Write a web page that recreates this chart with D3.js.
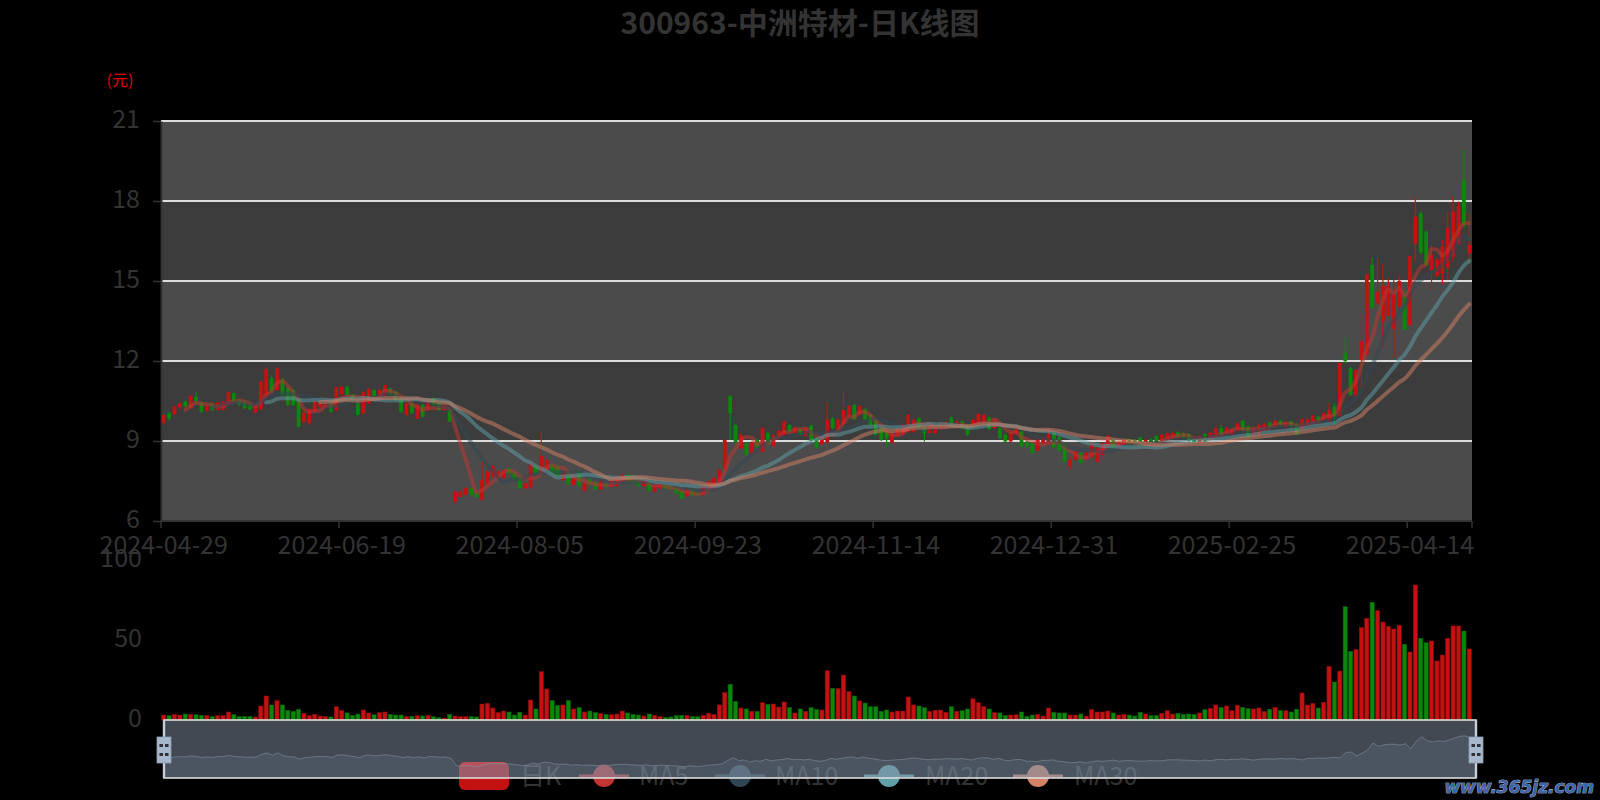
<!DOCTYPE html>
<html><head><meta charset="utf-8">
<script src="https://cdn.jsdelivr.net/npm/d3@7/dist/d3.min.js"></script>
<style>html,body{margin:0;padding:0;background:#000;}svg{display:block;}</style>
</head><body>
<svg id="chart" width="1600" height="800"></svg>
<script>
// ---------------- DATA ----------------
const dates = [
"2024-04-29","2024-04-30",
"2024-05-06","2024-05-07","2024-05-08","2024-05-09","2024-05-10","2024-05-13","2024-05-14","2024-05-15","2024-05-16","2024-05-17","2024-05-20","2024-05-21","2024-05-22","2024-05-23","2024-05-24","2024-05-27","2024-05-28","2024-05-29","2024-05-30","2024-05-31",
"2024-06-03","2024-06-04","2024-06-05","2024-06-06","2024-06-07","2024-06-11","2024-06-12","2024-06-13","2024-06-14","2024-06-17","2024-06-18","2024-06-19","2024-06-20","2024-06-21","2024-06-24","2024-06-25","2024-06-26","2024-06-27","2024-06-28",
"2024-07-01","2024-07-02","2024-07-03","2024-07-04","2024-07-05","2024-07-08","2024-07-09","2024-07-10","2024-07-11","2024-07-12","2024-07-15","2024-07-16","2024-07-17","2024-07-18","2024-07-19","2024-07-22","2024-07-23","2024-07-24","2024-07-25","2024-07-26","2024-07-29","2024-07-30","2024-07-31",
"2024-08-01","2024-08-02","2024-08-05","2024-08-06","2024-08-07","2024-08-08","2024-08-09","2024-08-12","2024-08-13","2024-08-14","2024-08-15","2024-08-16","2024-08-19","2024-08-20","2024-08-21","2024-08-22","2024-08-23","2024-08-26","2024-08-27","2024-08-28","2024-08-29","2024-08-30",
"2024-09-02","2024-09-03","2024-09-04","2024-09-05","2024-09-06","2024-09-09","2024-09-10","2024-09-11","2024-09-12","2024-09-13","2024-09-18","2024-09-19","2024-09-20","2024-09-23","2024-09-24","2024-09-25","2024-09-26","2024-09-27","2024-09-30",
"2024-10-08","2024-10-09","2024-10-10","2024-10-11","2024-10-14","2024-10-15","2024-10-16","2024-10-17","2024-10-18","2024-10-21","2024-10-22","2024-10-23","2024-10-24","2024-10-25","2024-10-28","2024-10-29","2024-10-30","2024-10-31",
"2024-11-01","2024-11-04","2024-11-05","2024-11-06","2024-11-07","2024-11-08","2024-11-11","2024-11-12","2024-11-13","2024-11-14","2024-11-15","2024-11-18","2024-11-19","2024-11-20","2024-11-21","2024-11-22","2024-11-25","2024-11-26","2024-11-27","2024-11-28","2024-11-29",
"2024-12-02","2024-12-03","2024-12-04","2024-12-05","2024-12-06","2024-12-09","2024-12-10","2024-12-11","2024-12-12","2024-12-13","2024-12-16","2024-12-17","2024-12-18","2024-12-19","2024-12-20","2024-12-23","2024-12-24","2024-12-25","2024-12-26","2024-12-27","2024-12-30","2024-12-31",
"2025-01-02","2025-01-03","2025-01-06","2025-01-07","2025-01-08","2025-01-09","2025-01-10","2025-01-13","2025-01-14","2025-01-15","2025-01-16","2025-01-17","2025-01-20","2025-01-21","2025-01-22","2025-01-23","2025-01-24","2025-01-27",
"2025-02-05","2025-02-06","2025-02-07","2025-02-10","2025-02-11","2025-02-12","2025-02-13","2025-02-14","2025-02-17","2025-02-18","2025-02-19","2025-02-20","2025-02-21","2025-02-24","2025-02-25","2025-02-26","2025-02-27","2025-02-28",
"2025-03-03","2025-03-04","2025-03-05","2025-03-06","2025-03-07","2025-03-10","2025-03-11","2025-03-12","2025-03-13","2025-03-14","2025-03-17","2025-03-18","2025-03-19","2025-03-20","2025-03-21","2025-03-24","2025-03-25","2025-03-26","2025-03-27","2025-03-28","2025-03-31",
"2025-04-01","2025-04-02","2025-04-03","2025-04-07","2025-04-08","2025-04-09","2025-04-10","2025-04-11","2025-04-14","2025-04-15","2025-04-16","2025-04-17","2025-04-18","2025-04-21","2025-04-22","2025-04-23","2025-04-24","2025-04-25","2025-04-28","2025-04-29"
];

const opens = [
9.69,10.04,10.01,10.26,10.48,10.23,10.66,10.44,10.14,10.39,10.16,10.18,10.39,10.79,10.54,10.48,10.41,10.06,10.19,10.64,
11.35,10.91,11.31,10.98,10.91,10.56,9.73,9.66,10.1,10.29,10.29,10.41,10.16,10.76,11.04,10.73,10.41,10.04,10.41,10.91,
10.69,10.73,10.98,10.85,10.66,9.98,10.41,9.85,10.35,10.16,10.6,10.41,10.16,10.19,6.73,6.91,6.98,7.23,7.06,6.8,
7.35,7.66,7.64,7.6,7.98,7.81,7.66,7.23,7.26,8.04,7.85,7.91,8.1,8.06,7.54,7.81,7.35,7.85,7.14,7.56,
7.44,7.19,7.41,7.29,7.31,7.48,7.73,7.6,7.48,7.31,7.48,7.1,7.23,7.38,7.33,7.29,7.1,6.94,7.16,7.06,
6.98,7.23,7.29,7.48,7.91,10.69,9.6,8.73,8.91,8.54,9.04,8.6,9.29,8.81,9.14,9.23,9.6,9.31,9.44,9.19,
9.58,9.1,8.88,8.95,9.85,9.44,9.64,9.94,10.35,10.01,10.19,9.98,9.79,9.48,9.35,8.94,9.19,9.26,9.35,9.35,
9.85,9.5,9.31,9.29,9.48,9.56,9.88,9.54,9.73,9.6,9.6,9.64,9.7,9.88,9.48,9.48,9.23,8.98,9.26,9.35,
8.98,8.91,8.64,8.91,8.91,9.31,9.14,8.91,8.06,8.29,8.54,8.31,8.41,8.23,8.48,8.81,9.04,8.81,8.85,9.06,
9.04,9.13,8.85,9.06,9.19,9.01,9.06,9.14,9.33,9.29,9.26,9.06,8.91,9.26,9.1,9.14,9.48,9.29,9.23,9.44,
9.76,9.54,9.19,9.23,9.44,9.69,9.56,9.75,9.51,9.73,9.63,9.44,9.6,9.73,9.91,9.79,9.79,10.29,9.94,12.3,
11.73,10.7,12.04,12.23,15.6,14.16,13.5,13.7,13.2,14.04,14.04,13.35,16.4,17.54,16.85,15.4,15.2,15.3,15.5,15.9,
16.4,18.8,16.04
];
const closes = [
9.97,9.85,10.29,10.41,10.3,10.69,10.5,10.1,10.31,10.16,10.44,10.48,10.83,10.48,10.35,10.23,10.19,10.31,11.23,11.69,
10.89,11.73,10.73,10.35,10.35,9.54,10.06,10.19,10.48,10.44,10.44,10.1,11.01,11.04,10.73,10.51,9.98,10.83,10.94,10.66,
10.91,11.1,10.73,10.54,10.1,10.41,10.04,10.35,9.91,10.48,10.35,10.16,10.35,9.73,7.1,7.1,7.23,6.98,6.89,7.54,
7.85,8.06,7.85,7.91,7.79,7.56,7.23,7.41,8.14,7.79,8.44,8.29,7.79,7.69,7.79,7.39,7.6,7.31,7.41,7.39,
7.19,7.51,7.29,7.54,7.6,7.73,7.51,7.44,7.31,7.51,7.14,7.29,7.41,7.23,7.2,7.04,6.85,7.19,6.98,6.98,
7.29,7.48,7.6,7.91,9.04,10.04,8.95,9.23,8.48,8.94,8.76,9.48,8.91,9.23,9.38,9.73,9.35,9.5,9.26,9.48,
9.01,8.76,9.06,9.8,9.48,9.81,10.16,10.31,9.81,10.31,9.81,9.6,9.23,9.04,9.1,9.26,9.44,9.6,9.98,9.79,
9.48,9.3,9.56,9.48,9.66,9.69,9.54,9.73,9.48,9.23,9.79,10.01,9.98,9.44,9.81,9.1,8.98,9.35,9.44,8.79,
8.79,8.56,9.06,9.1,9.23,8.76,8.64,8.23,8.29,8.6,8.19,8.56,8.91,8.73,8.91,9.19,8.76,8.94,9.04,8.89,
8.81,8.81,9.04,8.91,8.94,9.23,9.29,9.31,9.16,9.14,9.01,8.94,9.19,8.98,9.31,9.48,9.26,9.48,9.44,9.66,
9.41,9.16,9.48,9.6,9.64,9.56,9.76,9.6,9.69,9.54,9.26,9.81,9.81,9.94,9.79,10.04,10.16,9.94,11.93,12.0,
10.73,11.66,12.73,15.26,14.0,14.6,14.8,14.8,14.5,15.0,13.17,15.94,17.4,16.07,15.6,16.0,15.8,16.3,17.0,17.6,
17.8,17.1,16.35
];
const highs = [
10.0,10.1,10.33,10.45,10.52,10.72,10.83,10.5,10.35,10.42,10.47,10.5,10.86,10.82,10.58,10.5,10.44,10.34,11.26,11.76,
11.45,11.76,11.36,11.02,10.95,10.6,10.1,10.22,10.5,10.47,10.48,10.44,11.03,11.07,11.07,10.76,10.44,10.86,10.98,10.94,
10.95,11.12,11.0,10.88,10.7,10.44,10.44,10.38,10.38,10.5,10.63,10.44,10.38,10.22,7.14,7.14,7.27,7.27,7.1,8.23,
7.9,8.1,7.9,7.95,8.02,7.85,7.7,7.45,8.17,8.08,9.35,8.33,8.14,8.1,7.83,7.85,7.64,7.88,7.45,7.6,
7.48,7.55,7.45,7.58,7.64,7.77,7.77,7.64,7.52,7.55,7.52,7.33,7.45,7.42,7.36,7.33,7.14,7.23,7.2,7.1,
7.33,7.52,7.64,7.98,9.06,10.72,9.65,9.3,8.95,8.98,9.08,9.52,9.33,9.27,9.42,9.77,9.64,9.54,9.48,9.52,
9.62,9.14,9.1,10.48,9.9,9.85,10.85,10.35,10.4,10.35,10.23,10.02,9.82,9.52,9.38,9.3,9.48,9.64,10.02,9.83,
9.9,9.54,9.6,9.52,9.7,9.73,9.92,9.77,9.77,9.64,9.83,10.05,10.02,9.92,9.85,9.52,9.27,9.39,9.48,9.39,
9.02,8.95,9.1,9.14,9.48,9.35,9.18,8.95,8.41,8.64,8.58,8.6,8.95,8.77,8.95,9.23,9.08,8.98,9.08,9.1,
9.08,9.16,9.08,9.1,9.22,9.27,9.33,9.35,9.37,9.33,9.3,9.1,9.23,9.3,9.35,9.52,9.6,9.52,9.48,9.7,
9.8,9.58,9.52,9.64,9.68,9.73,9.8,9.79,9.73,9.77,9.67,9.85,9.85,9.98,9.95,10.08,10.44,10.41,11.93,12.91,
11.8,11.7,13.73,15.28,15.9,15.89,15.66,15.1,15.04,15.23,14.6,15.96,18.19,17.6,16.9,16.35,15.85,16.54,17.6,18.19,
17.98,19.9,17.54
];
const lows = [
9.62,9.76,9.98,10.2,10.25,10.2,10.4,10.05,10.1,10.12,10.13,10.15,10.36,10.45,10.3,10.2,10.15,10.0,10.15,10.6,
10.85,10.88,10.7,10.3,10.3,9.5,9.68,9.62,10.06,10.25,10.26,10.06,10.12,10.72,10.7,10.48,9.95,10.0,10.38,10.62,
10.66,10.7,10.7,10.5,10.06,9.95,10.0,9.82,9.88,10.13,10.32,10.13,10.13,9.7,6.66,6.88,6.95,6.95,6.86,6.76,
7.3,7.62,7.6,7.56,7.75,7.52,7.2,7.2,7.22,7.76,7.8,7.87,7.76,7.65,7.5,7.35,7.32,7.28,7.1,7.35,
7.15,7.16,7.26,7.26,7.28,7.45,7.48,7.4,7.28,7.28,7.1,7.06,7.2,7.2,7.16,7.0,6.82,6.9,6.94,6.94,
6.95,7.2,7.26,7.45,7.88,9.04,8.85,8.7,8.45,8.5,8.72,8.56,8.88,8.78,9.1,9.2,9.32,9.28,9.22,9.16,
8.98,8.72,8.85,8.9,9.44,9.4,9.6,9.9,9.78,9.98,9.78,9.56,9.2,9.0,8.8,8.9,9.16,9.22,9.32,9.32,
9.44,8.98,9.28,9.26,9.45,9.53,9.5,9.5,9.44,9.2,9.56,9.6,9.66,9.4,9.45,9.06,8.94,8.94,9.22,8.75,
8.75,8.52,8.6,8.88,8.88,8.72,8.6,8.2,7.91,8.26,8.16,8.28,8.38,8.2,8.45,8.78,8.72,8.78,8.82,8.86,
8.78,8.78,8.82,8.88,8.9,8.98,9.03,9.1,9.13,9.1,8.98,8.9,8.88,8.94,9.06,9.1,9.22,9.26,9.2,9.4,
9.38,9.12,9.16,9.2,9.4,9.52,9.52,9.56,9.48,9.5,9.22,9.4,9.56,9.7,9.75,9.76,9.69,9.6,9.9,11.9,
10.7,10.66,10.92,12.2,13.98,14.1,12.48,13.66,12.1,14.0,13.16,13.3,15.73,16.0,15.55,14.66,15.15,14.85,15.04,15.73,
16.35,17.0,15.66
];
const volumes = [
3.1,2.7,3.5,3.1,3.75,3.5,3.3,2.9,2.7,2.1,2.7,2.7,5.0,3.3,2.1,2.3,2.3,1.9,8.75,15,
9.4,12.1,9.4,6.0,5.4,6.7,4.2,2.7,3.5,2.5,2.1,1.9,8.3,6.0,4.4,2.9,3.75,6.25,4.4,3.3,
4.6,5.0,3.5,3.1,3.1,2.3,2.3,2.7,2.5,2.9,2.1,1.5,1.25,3.5,2.5,2.1,2.1,2.1,1.9,10,
10.4,7.5,4.6,5.6,5.0,3.1,4.8,3.1,12.5,6.9,30.2,19.4,12.1,9.2,9.4,12.1,6.9,7.7,5.0,5.6,
4.6,4.0,3.5,3.3,3.75,5.6,4.4,3.5,3.1,2.5,3.75,2.9,2.3,1.7,1.9,2.7,2.9,2.7,2.3,2.1,
2.9,4.2,3.5,9.4,17.1,22.3,11.5,7.5,6.9,5.4,5.4,10.8,9.8,10,8.1,11.25,7.9,4.4,6.9,5.4,
7.7,6.7,6.25,30.8,19.8,19.6,28.1,17.7,15,11.9,10.6,8.3,8.3,5.4,6.25,5.0,5.6,5.6,14.4,9.4,
8.75,7.7,5.4,6.0,6.25,4.8,8.3,5.4,5.8,6.9,13.3,10.8,8.3,6.9,4.6,4.4,2.9,3.1,3.3,5.0,
2.3,3.1,3.5,2.5,7.5,4.8,4.4,4.4,3.1,3.1,3.75,2.5,6.5,5.0,5.0,5.6,4.4,3.1,3.5,3.1,
2.5,4.8,3.75,2.7,2.9,4.2,5.8,3.75,4.2,3.5,3.75,3.5,4.4,6.5,7.3,9.4,7.7,8.75,5.8,9.2,
7.9,7.1,6.9,7.5,5.2,6.7,7.9,6.0,5.8,5.0,6.7,16.9,9.4,10.4,7.5,11,33.5,23.75,30.6,70.8,
42.9,44,57.7,63.5,73.5,68.3,61.25,58.5,56.9,59.2,47.3,42.5,84.4,51,48.3,49.4,36.9,40.6,51,58.75,
58.75,55.6,44.4
];

const priceTicks = [6, 9, 12, 15, 18, 21];
const volumeTicks = [0, 50, 100];
const maPeriods = [5, 10, 20, 30];
const legendNames = ["日K", "MA5", "MA10", "MA20", "MA30"];
const labelEvery = 33;
const titleText = "300963-中洲特材-日K线图";
const unitText = "(元)";

// ---------------- STYLE ----------------
const UP = "#c41212", DOWN = "#0b870b";
const MA_COLORS = ["#c23531", "#2f4554", "#61a0a8", "#d48265"];
const FONT = "'Noto Sans CJK SC','Noto Sans',sans-serif";

const svg = d3.select("#chart");
svg.append("rect").attr("width", 1600).attr("height", 800).attr("fill", "#000");

const L = 161, R = 1472, T = 121, B = 521;
const VT = 560, VB = 720;

const x = d3.scaleBand().domain(dates).range([L, R]).paddingInner(0).paddingOuter(0);
const bw = x.bandwidth();
const cx = i => x(dates[i]) + bw / 2;
const y = d3.scaleLinear().domain([6, 21]).range([B, T]);
const yv = d3.scaleLinear().domain([0, 100]).range([VB, VT]);

// title
svg.append("text").attr("x", 800).attr("y", 34).attr("text-anchor", "middle")
  .attr("font-family", FONT).attr("font-weight", "bold").attr("font-size", 30)
  .attr("fill", "#333").text(titleText);
svg.append("text").attr("x", 120).attr("y", 86).attr("text-anchor", "middle")
  .attr("font-family", FONT).attr("font-size", 16).attr("fill", "#e00000").text(unitText);

// split areas
const bands = d3.pairs(priceTicks);
svg.append("g").selectAll("rect").data(bands).join("rect")
  .attr("x", L).attr("width", R - L)
  .attr("y", d => y(d[1])).attr("height", d => y(d[0]) - y(d[1]))
  .attr("fill", (d, i) => i % 2 === 0 ? "#4b4b4b" : "#3c3c3c");

// grid lines
svg.append("g").selectAll("line").data(priceTicks.slice(1)).join("line")
  .attr("x1", L).attr("x2", R).attr("y1", d => y(d)).attr("y2", d => y(d))
  .attr("stroke", "#dcdcdc").attr("stroke-width", 2);

// y axis
const yAxis = svg.append("g").attr("transform", `translate(${L},0)`)
  .call(d3.axisLeft(y).tickValues(priceTicks).tickSizeInner(8).tickSizeOuter(0).tickPadding(13));
yAxis.select(".domain").attr("stroke", "#333").attr("stroke-width", 2);
yAxis.selectAll(".tick line").attr("stroke", "#333").attr("stroke-width", 1.5);
yAxis.selectAll(".tick text").attr("fill", "#333").attr("font-size", 25).attr("font-family", FONT).attr("dy", "0.26em");

// x axis
const labelDates = dates.filter((d, i) => i % labelEvery === 0);
const xAxisG = svg.append("g").attr("transform", `translate(0,${B})`);
xAxisG.append("line").attr("x1", L).attr("x2", R).attr("stroke", "#333").attr("stroke-width", 2);
xAxisG.selectAll("line.tk").data(labelDates.map(d => x(d)).concat([R])).join("line").attr("class", "tk")
  .attr("x1", d => d).attr("x2", d => d).attr("y1", 0).attr("y2", 7)
  .attr("stroke", "#333").attr("stroke-width", 1.5);
xAxisG.selectAll("text").data(labelDates).join("text")
  .attr("x", d => x(d) + bw / 2).attr("y", 33).attr("text-anchor", "middle")
  .attr("font-family", FONT).attr("font-size", 25).attr("fill", "#333").text(d => d);

// clip
svg.append("clipPath").attr("id", "plotclip").append("rect")
  .attr("x", L).attr("y", T - 2).attr("width", R - L).attr("height", B - T + 4);

const idx = d3.range(dates.length);
const isUp = i => closes[i] >= opens[i];

// candles
const cg = svg.append("g").attr("clip-path", "url(#plotclip)");
const candleW = 3.8;
cg.selectAll("line.wick").data(idx).join("line").attr("class", "wick")
  .attr("x1", i => cx(i)).attr("x2", i => cx(i))
  .attr("y1", i => y(highs[i])).attr("y2", i => y(lows[i]))
  .attr("stroke", i => isUp(i) ? UP : DOWN).attr("stroke-width", 1.2);
cg.selectAll("rect.body").data(idx).join("rect").attr("class", "body")
  .attr("x", i => cx(i) - candleW / 2).attr("width", candleW)
  .attr("y", i => y(Math.max(opens[i], closes[i])))
  .attr("height", i => Math.max(1, Math.abs(y(opens[i]) - y(closes[i]))))
  .attr("fill", i => isUp(i) ? UP : DOWN);

// moving averages (computed from the close values)
function movingAverage(n) {
  return idx.map(i => i < n - 1 ? null : d3.mean(closes.slice(i - n + 1, i + 1)));
}
const line = d3.line().defined(d => d.v !== null).x(d => cx(d.i)).y(d => y(d.v)).curve(d3.curveMonotoneX);
maPeriods.forEach((n, k) => {
  const ma = movingAverage(n).map((v, i) => ({ i, v }));
  cg.append("path").datum(ma).attr("d", line).attr("fill", "none")
    .attr("stroke", MA_COLORS[k]).attr("stroke-width", 4).attr("stroke-opacity", 0.5)
    .attr("stroke-linejoin", "round").attr("stroke-linecap", "round");
});

// volume
const vAxis = svg.append("g").attr("transform", `translate(${L},0)`)
  .call(d3.axisLeft(yv).tickValues(volumeTicks).tickSize(0).tickPadding(19));
vAxis.select(".domain").remove();
vAxis.selectAll(".tick text").attr("fill", "#333").attr("font-size", 25).attr("font-family", FONT).attr("dy", "0.24em");

const volW = 4.2;
svg.append("g").selectAll("rect").data(idx).join("rect")
  .attr("x", i => cx(i) - volW / 2).attr("width", volW)
  .attr("y", i => yv(volumes[i])).attr("height", i => yv(0) - yv(volumes[i]))
  .attr("fill", i => isUp(i) ? UP : DOWN)
  .attr("stroke", i => isUp(i) ? "#8a0c0c" : "#075e07").attr("stroke-width", 0.6);

// legend (drawn beneath the slider)
const LY = 776;
const lg = svg.append("g");
const legendItems = [
  { name: legendNames[0], icon: 459, text: 520 },
  { name: legendNames[1], icon: 579, text: 639, color: MA_COLORS[0] },
  { name: legendNames[2], icon: 715, text: 775, color: MA_COLORS[1] },
  { name: legendNames[3], icon: 864, text: 925, color: MA_COLORS[2] },
  { name: legendNames[4], icon: 1013, text: 1074, color: MA_COLORS[3] }
];
legendItems.forEach((it, k) => {
  if (k === 0) {
    lg.append("rect").attr("x", it.icon).attr("y", LY - 14).attr("width", 50).attr("height", 28)
      .attr("rx", 6).attr("fill", UP);
  } else {
    lg.append("line").attr("x1", it.icon).attr("x2", it.icon + 50).attr("y1", LY).attr("y2", LY)
      .attr("stroke", it.color).attr("stroke-width", 3);
    lg.append("circle").attr("cx", it.icon + 25).attr("cy", LY).attr("r", 11).attr("fill", it.color);
  }
  lg.append("text").attr("x", it.text).attr("y", LY + 9).attr("font-family", FONT)
    .attr("font-size", 25).attr("fill", "#333").text(it.name);
});

// dataZoom slider
const SL = 164, SR = 1476, ST = 720, SB = 778;
const sx = d3.scaleLinear().domain([0, dates.length - 1]).range([SL, SR]);
const sy = d3.scaleLinear().domain([0, 20]).range([786, 729.6]);
const shadowArea = d3.area().x((d, i) => sx(i)).y0(SB).y1(d => Math.max(ST, sy(d)));
const shadowLine = d3.line().x((d, i) => sx(i)).y(d => Math.max(ST, sy(d)));
svg.append("path").datum(closes).attr("d", shadowArea).attr("fill", "rgba(47,69,84,0.3)");
svg.append("path").datum(closes).attr("d", shadowLine).attr("fill", "none")
  .attr("stroke", "rgba(120,135,150,0.5)").attr("stroke-width", 1);
svg.append("rect").attr("x", SL).attr("y", ST).attr("width", SR - SL).attr("height", SB - ST)
  .attr("fill", "rgba(167,183,204,0.4)").attr("stroke", "#ddd").attr("stroke-width", 1.6);
[SL, SR].forEach(hx => {
  svg.append("line").attr("x1", hx).attr("x2", hx).attr("y1", ST).attr("y2", SB)
    .attr("stroke", "#c5cfdc").attr("stroke-width", 2.4);
  svg.append("rect").attr("x", hx - 7).attr("y", 737).attr("width", 14).attr("height", 26)
    .attr("fill", "#a7b7cc").attr("stroke", "#8d9db3").attr("stroke-width", 0.8);
  [744, 753].forEach(my => {
    svg.append("rect").attr("x", hx - 4.5).attr("y", my).attr("width", 3.5).attr("height", 3).attr("fill", "#2c2f36");
    svg.append("rect").attr("x", hx + 1).attr("y", my).attr("width", 3.5).attr("height", 3).attr("fill", "#2c2f36");
  });
});

// watermark
svg.append("text").attr("x", 1594).attr("y", 793).attr("text-anchor", "end")
  .attr("font-family", "'DejaVu Sans',sans-serif").attr("font-weight", "bold").attr("font-style", "italic")
  .attr("font-size", 17).attr("fill", "#3f63a8").attr("stroke", "#d8e0ee").attr("stroke-width", 0.7)
  .attr("paint-order", "stroke").text("www.365jz.com");
</script>
</body></html>
